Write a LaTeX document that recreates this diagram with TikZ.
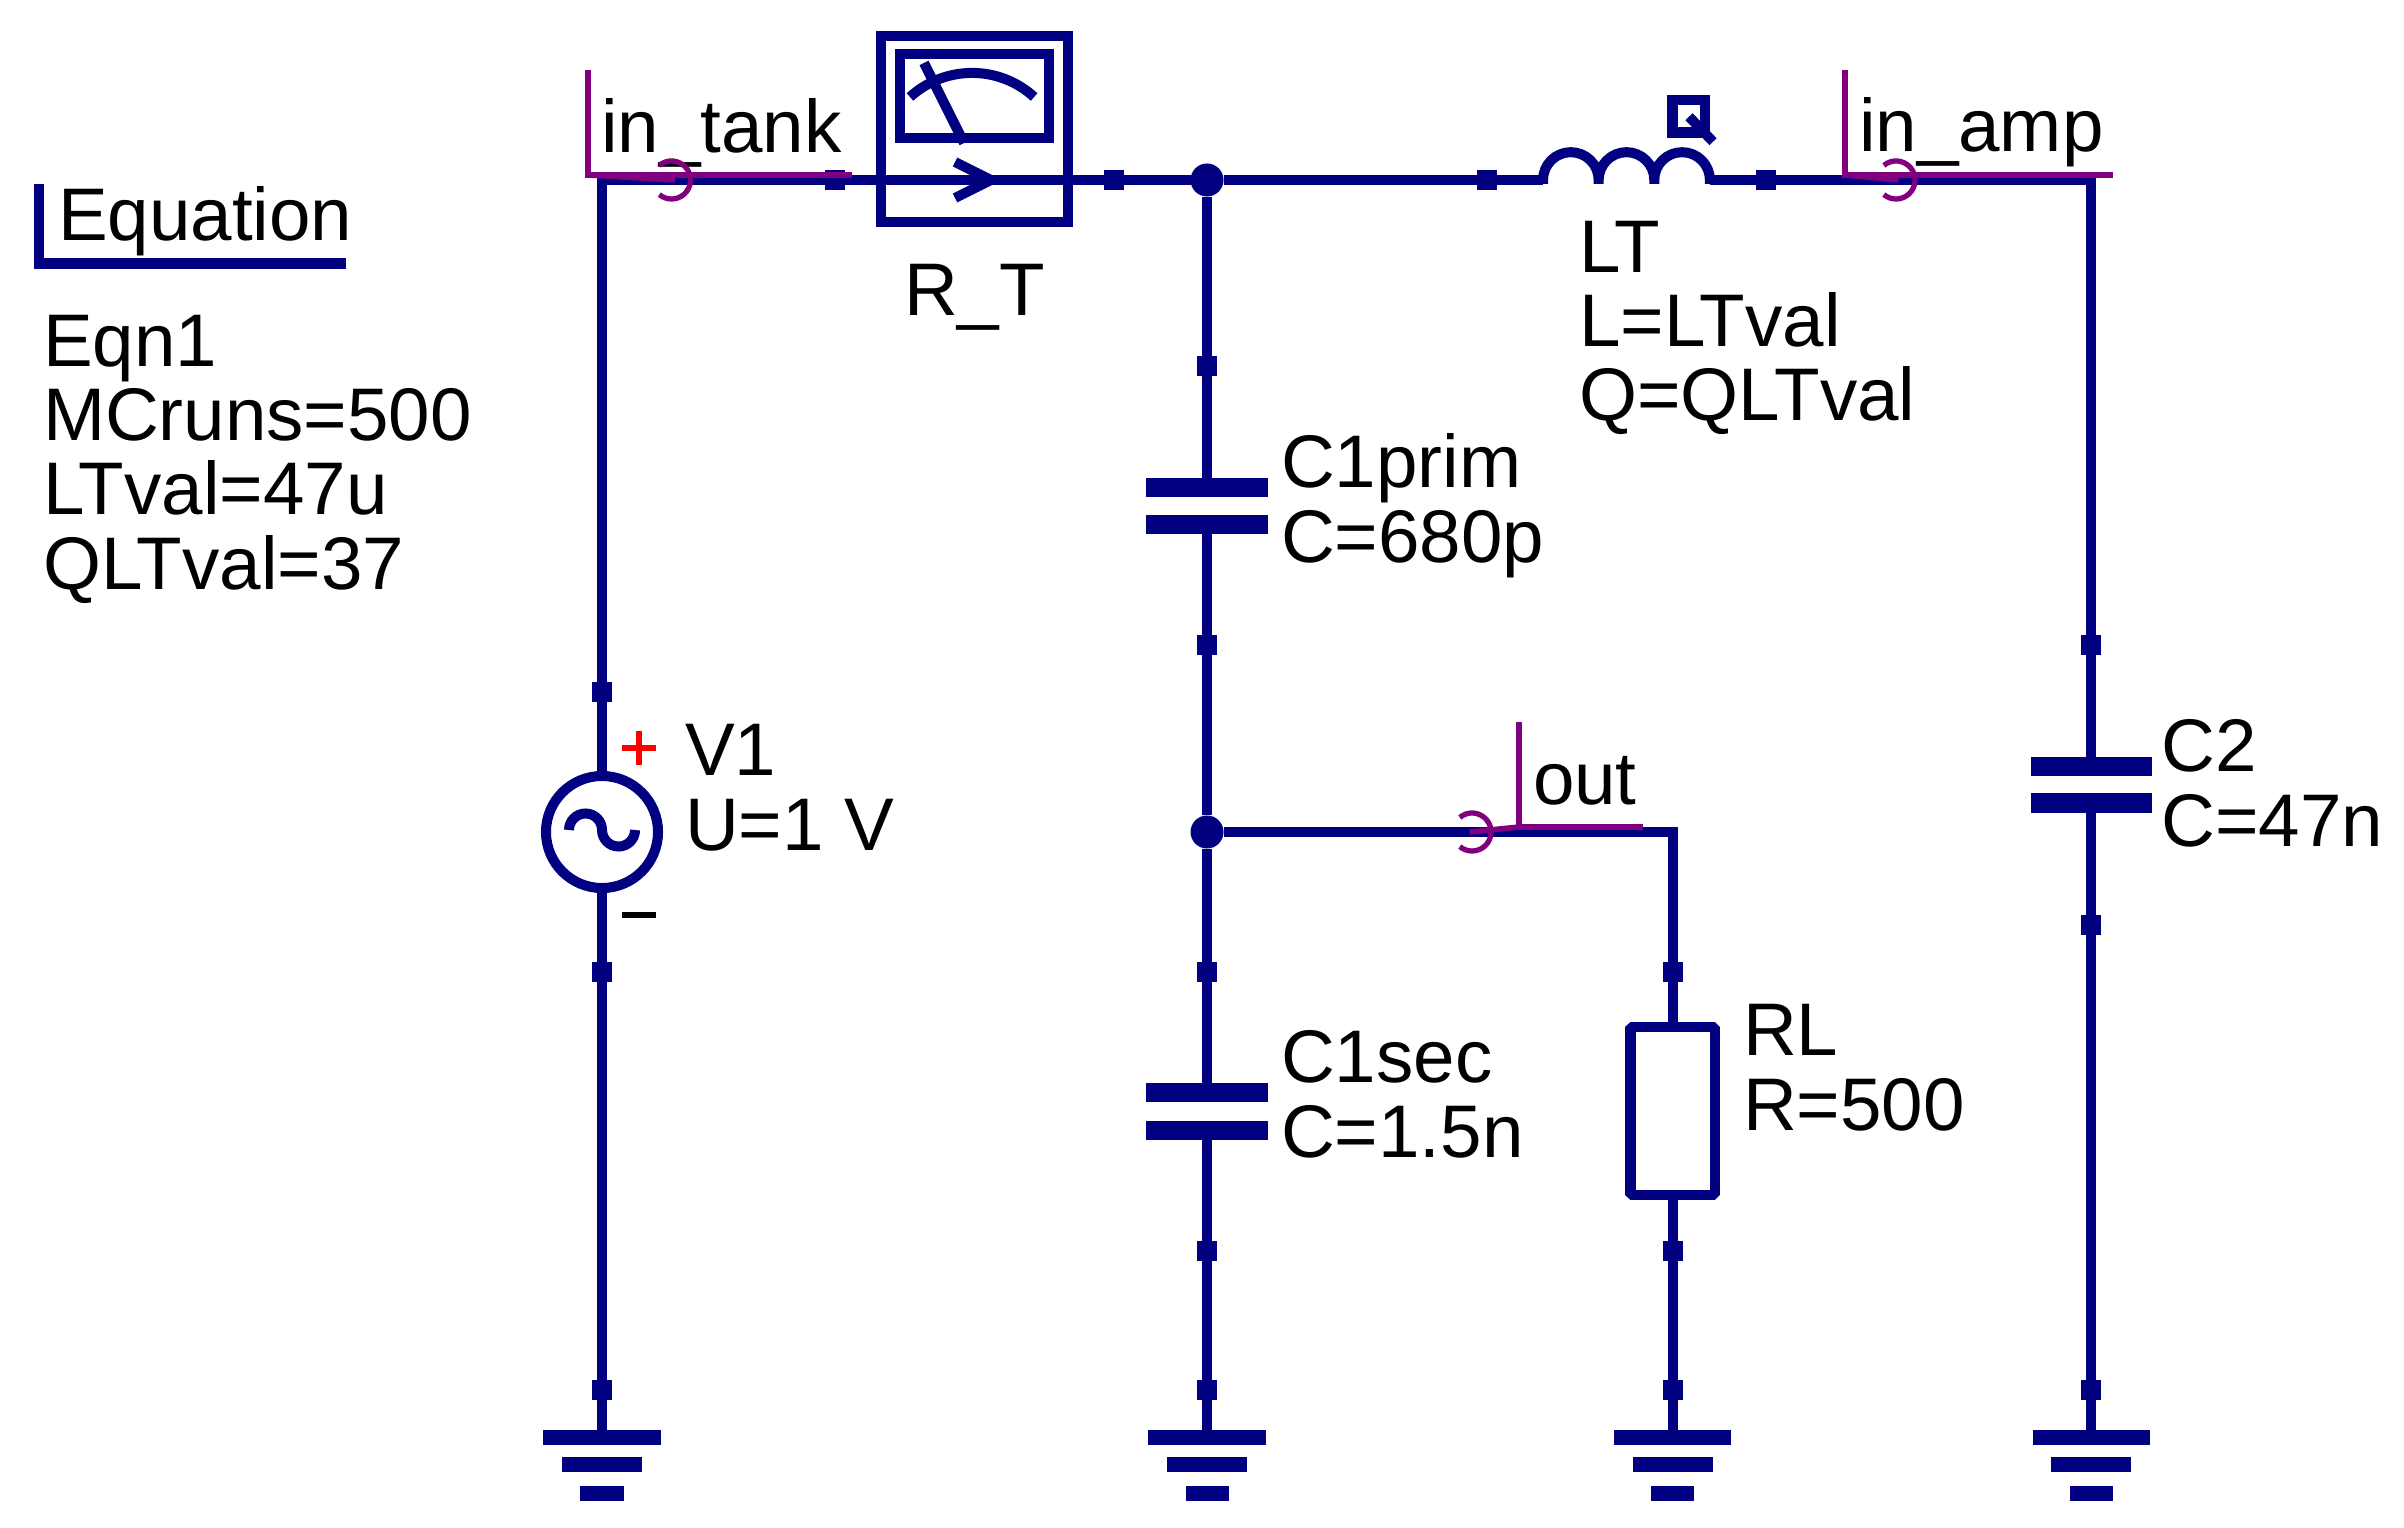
\documentclass[tikz,border=0pt]{standalone}
\usepackage{fontspec}
\setmainfont{Liberation Sans}
\definecolor{qnavy}{HTML}{000080}
\definecolor{qpurple}{HTML}{800080}
\tikzset{
  x=0.01cm,y=-0.01cm,
  wire/.style={draw=qnavy,line width=2.85pt},
  portsq/.style={rectangle,fill=qnavy,inner sep=0pt,outer sep=0pt,minimum size=0.2cm},
  dotnode/.style={circle,fill=qnavy,inner sep=0pt,outer sep=0pt,minimum size=0.33cm},
  plate/.style={rectangle,fill=qnavy,inner sep=0pt,outer sep=0pt,minimum width=1.21cm,minimum height=0.19cm},
  gbar/.style={rectangle,fill=qnavy,inner sep=0pt,outer sep=0pt,minimum height=0.15cm},
  lbl/.style={anchor=base west,inner sep=0pt,outer sep=0pt,align=left,text=black,font=\fontsize{21.2}{21.05}\selectfont},
  tag/.style={draw=qpurple,line width=1.56pt},
  hook/.style={draw=qpurple,line width=1.5pt}
}
\newcommand{\gndsym}[3]{%
  \node[gbar,minimum width=1.17cm] (#1a) at (#2,#3) {};
  \node[gbar,minimum width=0.80cm] (#1b) at (#2,#3+27) {};
  \node[gbar,minimum width=0.43cm] (#1c) at (#2,#3+56) {};
}
\begin{document}
\begin{tikzpicture}
\useasboundingbox (0,0) rectangle (2404,1528);
% text
\node[lbl] (eqhead) at (58,241) {Equation};
\node[lbl] (eqblock) at (43,589) {Eqn1\\MCruns=500\\LTval=47u\\QLTval=37};
\node[lbl] (tintank) at (601,153) {in\_tank};
\node[lbl] (tinamp) at (1859,152) {in\_amp};
\node[lbl] (tout) at (1533,804) {out};
\node[lbl] (tRT) at (904,315.5) {R\_T};
\node[lbl] (tLT) at (1579,421) {LT\\L=LTval\\Q=QLTval};
\node[lbl] (tV1) at (685,850) {V1\\U=1 V};
\node[lbl] (tC1p) at (1281,562) {C1prim\\C=680p};
\node[lbl] (tC1s) at (1281,1157) {C1sec\\C=1.5n};
\node[lbl] (tC2) at (2161.5,846) {C2\\C=47n};
\node[lbl] (tRL) at (1743,1130) {RL\\R=500};
% equation bracket
\coordinate (eqa) at (39,184);
\coordinate (eqb) at (39,263.5);
\coordinate (eqc) at (346,263.5);
\draw[wire] (eqa) -- (eqb) -- (eqc);
% junctions
\node[dotnode] (J1) at (1207,180) {};
\node[dotnode] (J2) at (1207,832) {};
% port squares
\node[portsq] (sA) at (835,180) {};
\node[portsq] (sB) at (1114,180) {};
\node[portsq] (sC) at (1487,180) {};
\node[portsq] (sD) at (1766,180) {};
\node[portsq] (sV1) at (602,692) {};
\node[portsq] (sV2) at (602,972) {};
\node[portsq] (sV3) at (602,1390) {};
\node[portsq] (sP1) at (1207,366) {};
\node[portsq] (sP2) at (1207,645) {};
\node[portsq] (sS1) at (1207,972) {};
\node[portsq] (sS2) at (1207,1251) {};
\node[portsq] (sS3) at (1207,1390) {};
\node[portsq] (sR1) at (1672.5,972) {};
\node[portsq] (sR2) at (1672.5,1251) {};
\node[portsq] (sR3) at (1672.5,1390) {};
\node[portsq] (sT1) at (2091,645) {};
\node[portsq] (sT2) at (2091,925) {};
\node[portsq] (sT3) at (2091,1390) {};
% grounds
\gndsym{gV}{602}{1437.5}
\gndsym{gS}{1207}{1437.5}
\gndsym{gR}{1672.5}{1437.5}
\gndsym{gT}{2091}{1437.5}
% capacitors
\node[plate] (Pa) at (1207,487.5) {};
\node[plate] (Pb) at (1207,524.5) {};
\node[plate] (Sa) at (1207,1092.5) {};
\node[plate] (Sb) at (1207,1130) {};
\node[plate] (Ta) at (2091,766.5) {};
\node[plate] (Tb) at (2091,803) {};
% source
\node[circle,draw=qnavy,line width=2.85pt,minimum size=1.12cm,inner sep=0pt,outer sep=0pt] (V1) at (602,832) {};
\draw[wire] (569,830) arc[start angle=180,end angle=0,radius=0.165cm] arc[start angle=180,end angle=360,radius=0.165cm];
\node[rectangle,fill=red,inner sep=0pt,minimum width=0.34cm,minimum height=0.06cm] (plusH) at (639,748) {};
\node[rectangle,fill=red,inner sep=0pt,minimum width=0.06cm,minimum height=0.33cm] (plusV) at (639,748) {};
\node[rectangle,fill=black,inner sep=0pt,minimum width=0.34cm,minimum height=0.06cm] (minus) at (639,915) {};
% resistor
\node[rectangle,draw=qnavy,line width=2.85pt,line join=bevel,inner sep=0pt,outer sep=0pt,minimum width=0.84cm,minimum height=1.68cm] (RL) at (1672.5,1111) {};
% ammeter
\node[rectangle,draw=qnavy,line width=2.95pt,inner sep=0pt,outer sep=0pt,minimum width=1.865cm,minimum height=1.86cm] (RT) at (974.5,129) {};
\node[rectangle,draw=qnavy,line width=2.95pt,inner sep=0pt,outer sep=0pt,minimum width=1.49cm,minimum height=0.84cm] (RTw) at (974.5,96) {};
\coordinate (na) at (924,63);
\coordinate (nb) at (964,143);
\draw[wire] (na) -- (nb);
\draw[wire] (910,97) arc[start angle=132.4,end angle=47.6,radius=0.92cm];
\coordinate (cha) at (955,162);
\coordinate (chb) at (991,180);
\coordinate (chc) at (955,198);
\draw[wire] (cha) -- (chb) -- (chc);
% inductor
\coordinate (LTa) at (1543,180);
\coordinate (LTb) at (1710,180);
\draw[wire] (1543,184) -- (LTa) arc[start angle=180,end angle=0,radius=0.278cm] -- +(0,4) -- +(0,0) arc[start angle=180,end angle=0,radius=0.278cm] -- +(0,4) -- +(0,0) arc[start angle=180,end angle=0,radius=0.278cm] -- +(0,4);
\node[rectangle,draw=qnavy,line width=2.95pt,inner sep=0pt,outer sep=0pt,minimum width=0.325cm,minimum height=0.325cm] (LTq) at (1688.75,116.25) {};
\coordinate (qa) at (1689,116.7);
\coordinate (qb) at (1713,141.7);
\draw[wire] (qa) -- (qb);
% wires
\draw[wire] (sV1.north) |- (sA.west);
\draw[wire] (sA) -- (sB);
\draw[wire] (sB) -- (J1);
\draw[wire] (J1) -- (sC);
\draw[wire] (sC) -- (LTa);
\draw[wire] (LTb) -- (sD);
\draw[wire] (sD.east) -| (sT1.north);
\draw[wire] (sV1) -- (V1);
\draw[wire] (V1) -- (sV2);
\draw[wire] (sV2) -- (sV3);
\draw[wire] (sV3) -- (gVa);
\draw[wire] (J1) -- (sP1);
\draw[wire] (sP1) -- (Pa);
\draw[wire] (Pb) -- (sP2);
\draw[wire] (sP2) -- (J2);
\draw[wire] (J2) -- (sS1);
\draw[wire] (sS1) -- (Sa);
\draw[wire] (Sb) -- (sS2);
\draw[wire] (sS2) -- (sS3);
\draw[wire] (sS3) -- (gSa);
\draw[wire] (J2.east) -| (sR1.north);
\draw[wire] (sR1) -- (RL);
\draw[wire] (RL) -- (sR2);
\draw[wire] (sR2) -- (sR3);
\draw[wire] (sR3) -- (gRa);
\draw[wire] (sT1) -- (Ta);
\draw[wire] (Tb) -- (sT2);
\draw[wire] (sT2) -- (sT3);
\draw[wire] (sT3) -- (gTa);
% wire labels
\coordinate (ita) at (588,70);
\coordinate (itb) at (588,175);
\coordinate (itc) at (851.5,175);
\coordinate (itd) at (675,180);
\draw[tag] (ita) -- (itb) -- (itc);
\draw[tag] (itb) -- (itd);
\draw[hook] (671.5,180) ++(130:0.19cm) arc[start angle=130,end angle=-130,radius=0.19cm];
\coordinate (iaa) at (1845,70);
\coordinate (iab) at (1845,175);
\coordinate (iac) at (2113,175);
\coordinate (iad) at (1898.5,180);
\draw[tag] (iaa) -- (iab) -- (iac);
\draw[tag] (iab) -- (iad);
\draw[hook] (1896,180) ++(130:0.19cm) arc[start angle=130,end angle=-130,radius=0.19cm];
\coordinate (oa) at (1519,722);
\coordinate (ob) at (1519,827);
\coordinate (oc) at (1642.5,827);
\coordinate (od) at (1469.5,832);
\draw[tag] (oa) -- (ob) -- (oc);
\draw[tag] (ob) -- (od);
\draw[hook] (1472,832) ++(130:0.19cm) arc[start angle=130,end angle=-130,radius=0.19cm];
\end{tikzpicture}
\end{document}
